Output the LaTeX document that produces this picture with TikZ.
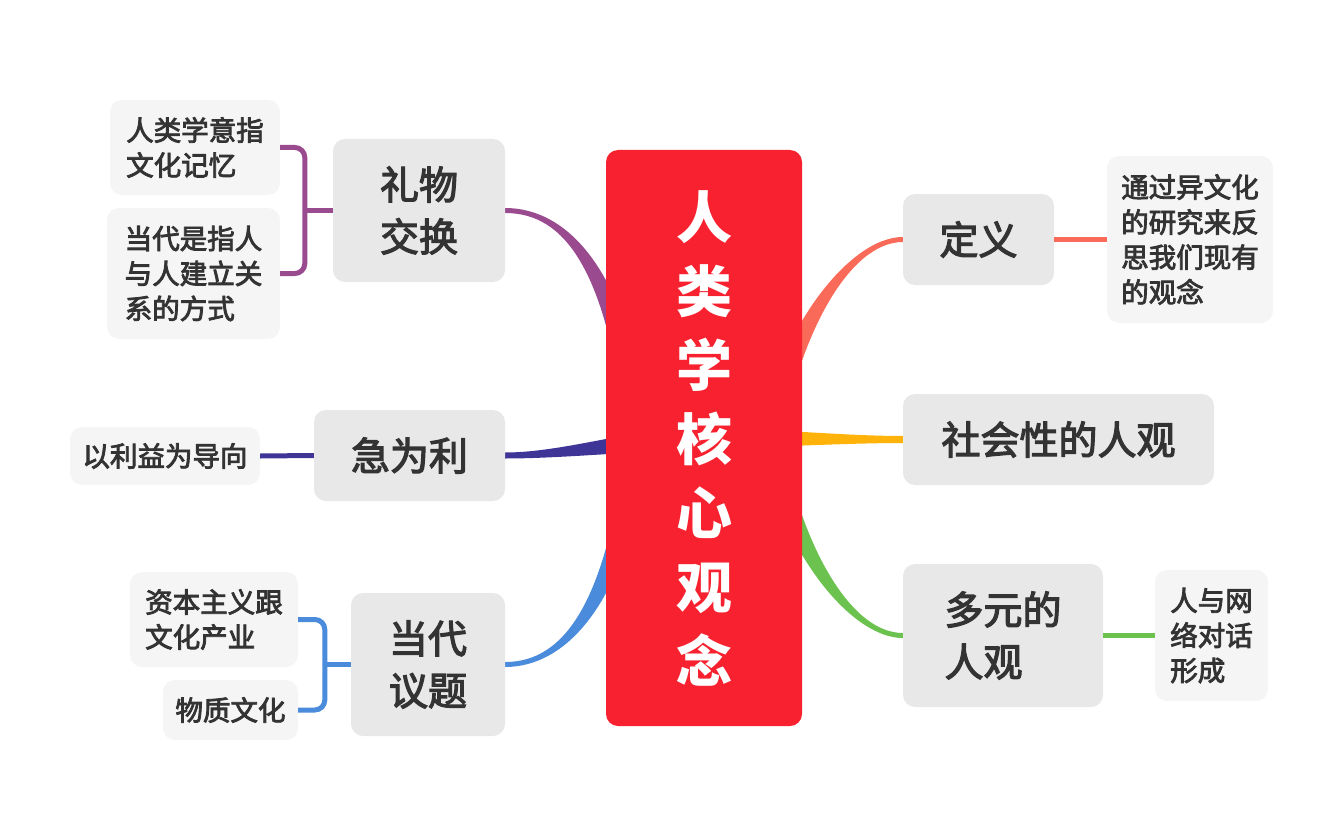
\documentclass[tikz,border=0pt]{standalone}
\usepackage{fontspec}
\usetikzlibrary{calc,backgrounds}
\newfontfamily\cjk{Noto Sans CJK SC}
\newfontfamily\cjkmid[FakeBold=3]{Noto Sans CJK SC}
\definecolor{rootred}{HTML}{F7212F}
\definecolor{topicgray}{HTML}{E8E8E8}
\definecolor{leafgray}{HTML}{F5F5F5}
\definecolor{inkgray}{HTML}{333333}
\definecolor{giftpurple}{HTML}{9A4A8F}
\definecolor{profitnavy}{HTML}{3F3597}
\definecolor{todayblue}{HTML}{4A8BDB}
\definecolor{defnsalmon}{HTML}{FA6A58}
\definecolor{socialorange}{HTML}{FFB20A}
\definecolor{pluralgreen}{HTML}{6BC24F}
\newcommand{\mapbranch}[7]{%
  \fill[#1] ($(#2)+(0,-#7)$) .. controls +(#4) and +(#5) .. ($(#3)+(#6)$)
    -- ($(#3)-(#6)$) .. controls +(#5) and +(#4) .. ($(#2)+(0,#7)$) -- cycle;}

\begin{document}
\begin{tikzpicture}[x=1pt, y=-1pt,
    every node/.style={align=left, text=inkgray, inner sep=0pt, font=\cjkmid},
    rootbox/.style={fill=rootred, text=white, rounded corners=12pt, align=center,
      font=\cjk\bfseries\fontsize{56}{74}\selectfont},
    topicbox/.style={fill=topicgray, rounded corners=12pt, font=\cjkmid\fontsize{39}{52}\selectfont},
    leafbox/.style={fill=leafgray, rounded corners=12pt, font=\cjkmid\fontsize{27.5}{35}\selectfont},
    twig/.style={line width=5pt, rounded corners=10pt}]
  \useasboundingbox (0,0) rectangle (1344,840);

  \node[rootbox, minimum width=196pt, minimum height=576pt] (root) at (704,438) {人\\类\\学\\核\\心\\观\\念};
  \coordinate (rootleft) at ($(root.center)+(-66,0)$);
  \coordinate (rootright) at ($(root.center)+(66,0)$);

  \node[topicbox, minimum width=172pt, minimum height=143pt] (gift) at (419,210.5) {礼物\\交换};
  \node[topicbox, minimum width=191pt, minimum height=91pt] (profit) at (409.5,455.5) {急为利};
  \node[topicbox, minimum width=154pt, minimum height=143pt] (today) at (428,664.5) {当代\\议题};
  \node[topicbox, minimum width=151pt, minimum height=91pt] (defn) at (978.5,239.5) {定义};
  \node[topicbox, minimum width=311pt, minimum height=91pt] (social) at (1058.5,439.5) {社会性的人观};
  \node[topicbox, minimum width=200pt, minimum height=143pt] (plural) at (1003,635.5) {多元的\\人观};

  \node[leafbox, minimum width=170pt, minimum height=95pt] (memory) at (195,147.5) {人类学意指\\文化记忆};
  \node[leafbox, minimum width=173pt, minimum height=131pt] (relation) at (193.5,273.5) {当代是指人\\与人建立关\\系的方式};
  \node[leafbox, minimum width=190pt, minimum height=58pt] (motive) at (165,456) {以利益为导向};
  \node[leafbox, minimum width=168pt, minimum height=95pt] (industry) at (214,619.5) {资本主义跟\\文化产业};
  \node[leafbox, minimum width=135pt, minimum height=60pt] (material) at (230.5,710) {物质文化};
  \node[leafbox, minimum width=166pt, minimum height=167pt] (reflect) at (1190,239.5) {通过异文化\\的研究来反\\思我们现有\\的观念};
  \node[leafbox, minimum width=113pt, minimum height=131pt] (network) at (1211.5,635.5) {人与网\\络对话\\形成};

  \begin{scope}[on background layer]
    \mapbranch{giftpurple}{gift.east}{rootleft}{60,0}{-20,-170}{11,-2}{2.5}
    \mapbranch{profitnavy}{profit.east}{root.center}{60,0}{-60,0}{0,-12}{3}
    \mapbranch{todayblue}{today.east}{rootleft}{60,0}{-20,165}{-11,-2}{2.5}
    \mapbranch{defnsalmon}{defn.west}{rootright}{-53,0}{20,-108}{-11,-2}{2.5}
    \mapbranch{socialorange}{social.west}{root.center}{-60,0}{60,0}{0,-10}{3.5}
    \mapbranch{pluralgreen}{plural.west}{rootright}{-53,0}{20,108}{11,-2}{2.5}
  \end{scope}

  \coordinate (giftfork) at ($(gift.west)+(-28,0)$);
  \draw[twig, giftpurple] (memory.east) -| (giftfork) |- (relation.east);
  \draw[twig, giftpurple] (giftfork) -- (gift.west);
  \draw[twig, profitnavy] (motive.east) -- (profit.west);
  \coordinate (todayfork) at ($(today.west)+(-26,0)$);
  \draw[twig, todayblue] (industry.east) -| (todayfork) |- (material.east);
  \draw[twig, todayblue] (todayfork) -- (today.west);
  \draw[twig, defnsalmon] (defn.east) -- (reflect.west);
  \draw[twig, pluralgreen] (plural.east) -- (network.west);
\end{tikzpicture}
\end{document}
